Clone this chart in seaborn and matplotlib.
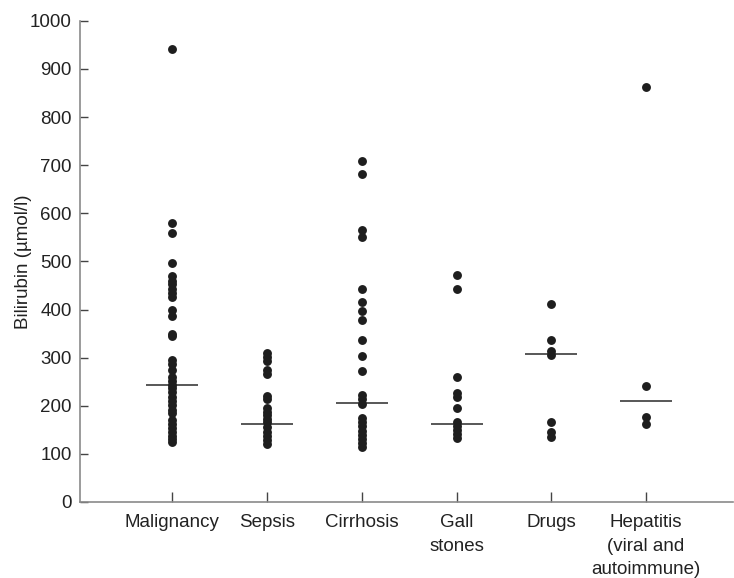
#!/usr/bin/env python3
"""
Bilirubin by cause of jaundice - dot plot with medians (seaborn)
"""

import matplotlib
matplotlib.use('Agg')
import matplotlib.pyplot as plt
import pandas as pd
import seaborn as sns

# Category labels (x axis)
categories = ['Malignancy', 'Sepsis', 'Cirrhosis', 'Gall\nstones', 'Drugs',
              'Hepatitis\n(viral and\nautoimmune)']

# Bilirubin values (umol/l)
malignancy = [942, 580, 558, 496, 469, 460, 452, 443, 435, 427, 398, 387, 350, 344,
              296, 286, 274, 260, 252, 244, 236, 228, 219, 210, 201, 192, 184,
              170, 162, 154, 146, 138, 130, 125]
sepsis = [310, 302, 293, 275, 265, 220, 215, 195, 188, 181, 173, 166, 155, 146,
          138, 129, 121]
cirrhosis = [708, 682, 566, 550, 442, 416, 397, 378, 336, 304, 272, 222, 215, 203,
             174, 166, 157, 148, 140, 131, 123, 115]
gall_stones = [471, 442, 259, 226, 219, 196, 166, 158, 150, 141, 134]
drugs = [411, 336, 314, 306, 166, 145, 135]
hepatitis = [862, 242, 177, 162]

# Median lines as drawn
medians = [243, 162, 205, 163, 307, 209]

groups = [malignancy, sepsis, cirrhosis, gall_stones, drugs, hepatitis]
df = pd.DataFrame({
    'cause': [c for c, g in zip(categories, groups) for _ in g],
    'bilirubin': [v for g in groups for v in g],
})

sns.set_theme(style='white')
plt.rcParams['font.family'] = ['Liberation Sans', 'DejaVu Sans']

fig = plt.figure(figsize=(7.34, 5.78), dpi=100)
ax = fig.add_axes([0.109, 0.1315, 0.89, 0.8325])

sns.stripplot(data=df, x='cause', y='bilirubin', order=categories,
              jitter=False, color='#1e1e1e', size=6.4, linewidth=0, ax=ax)

half = 0.275
for i, m in enumerate(medians):
    ax.hlines(m, i - half, i + half, color='#4a4a4a', linewidth=1.3, zorder=1)

ax.set_xlim(-0.975, 5.92)
ax.set_ylim(0, 1000)
ax.set_yticks(range(0, 1001, 100))
ax.set_xlabel('')
ax.set_ylabel('Bilirubin (\u00b5mol/l)', fontsize=13.5, color='#222222')
ax.yaxis.set_label_coords(-0.074, 0.5)

for side in ['top', 'right']:
    ax.spines[side].set_visible(False)
for side in ['left', 'bottom']:
    ax.spines[side].set_color('#8a8a8a')
    ax.spines[side].set_linewidth(1.2)

ax.tick_params(axis='y', direction='in', length=6, width=1, color='#444444',
               labelsize=13.5, labelcolor='#222222', pad=6, left=True)
ax.tick_params(axis='x', direction='in', length=7, width=1, color='#444444',
               labelsize=13.5, labelcolor='#222222', pad=9, bottom=True)
for lbl in ax.get_xticklabels():
    lbl.set_horizontalalignment('center')
    lbl.set_multialignment('center')
    lbl.set_linespacing(1.5)

plt.savefig('out.png', dpi=100, facecolor='white')
